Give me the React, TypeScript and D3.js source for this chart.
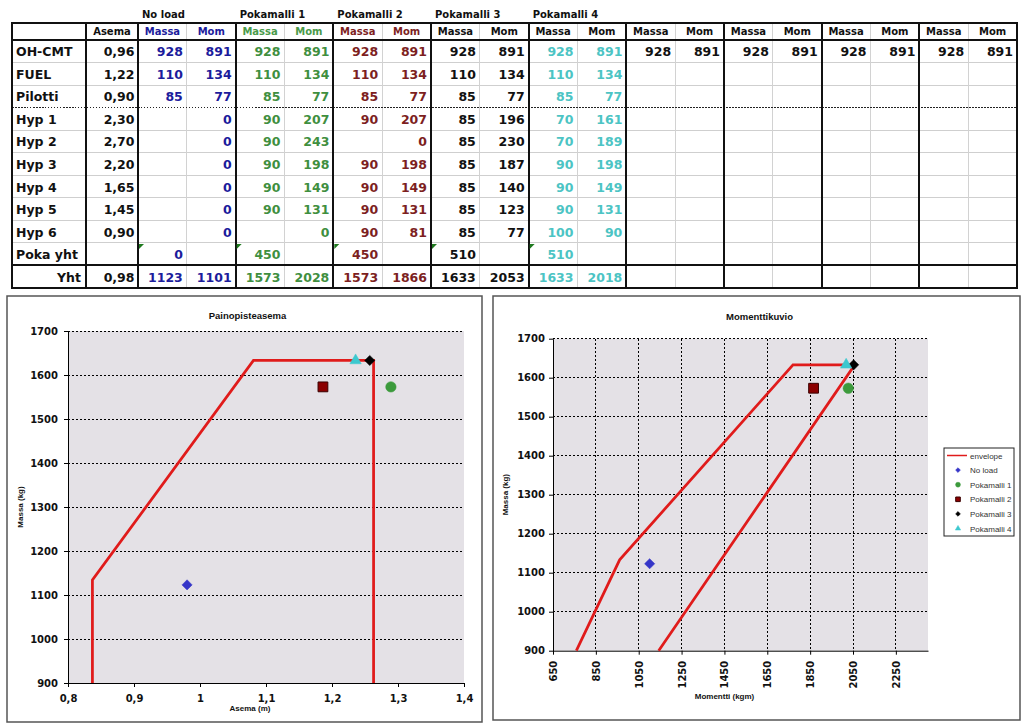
import React, { useEffect, useRef } from 'react';
import * as d3 from 'd3';

// ---- Table data ----
const rowLabels = ['OH-CMT', 'FUEL', 'Pilotti', 'Hyp 1', 'Hyp 2', 'Hyp 3', 'Hyp 4', 'Hyp 5', 'Hyp 6', 'Poka yht', 'Yht'];
const asemaValues = ['0,96', '1,22', '0,90', '2,30', '2,70', '2,20', '1,65', '1,45', '0,90', '', '0,98'];

type Cell = number | null;
const _ = null;

const noLoadMassa: Cell[] = [928, 110, 85, _, _, _, _, _, _, 0, 1123];
const noLoadMom: Cell[] = [891, 134, 77, 0, 0, 0, 0, 0, 0, _, 1101];
const poka1Massa: Cell[] = [928, 110, 85, 90, 90, 90, 90, 90, _, 450, 1573];
const poka1Mom: Cell[] = [891, 134, 77, 207, 243, 198, 149, 131, 0, _, 2028];
const poka2Massa: Cell[] = [928, 110, 85, 90, _, 90, 90, 90, 90, 450, 1573];
const poka2Mom: Cell[] = [891, 134, 77, 207, 0, 198, 149, 131, 81, _, 1866];
const poka3Massa: Cell[] = [928, 110, 85, 85, 85, 85, 85, 85, 85, 510, 1633];
const poka3Mom: Cell[] = [891, 134, 77, 196, 230, 187, 140, 123, 77, _, 2053];
const poka4Massa: Cell[] = [928, 110, 85, 70, 70, 90, 90, 90, 100, 510, 1633];
const poka4Mom: Cell[] = [891, 134, 77, 161, 189, 198, 149, 131, 90, _, 2018];
const blankMassa: Cell[] = [928, _, _, _, _, _, _, _, _, _, _];
const blankMom: Cell[] = [891, _, _, _, _, _, _, _, _, _, _];

const groupNames = ['No load', 'Pokamalli 1', 'Pokamalli 2', 'Pokamalli 3', 'Pokamalli 4', '', '', '', ''];
const groupMassa = [noLoadMassa, poka1Massa, poka2Massa, poka3Massa, poka4Massa, blankMassa, blankMassa, blankMassa, blankMassa];
const groupMom = [noLoadMom, poka1Mom, poka2Mom, poka3Mom, poka4Mom, blankMom, blankMom, blankMom, blankMom];
const groupColors = ['#1c1c9c', '#3f8f3f', '#7d1f1f', '#111111', '#4cc4c4', '#111111', '#111111', '#111111', '#111111'];
const headColors = ['#1c1c9c', '#4a9a4a', '#7d1f1f', '#111111', '#111111', '#111111', '#111111', '#111111', '#111111'];

// ---- Chart data ----
const massTicks = [900, 1000, 1100, 1200, 1300, 1400, 1500, 1600, 1700];
const asemaTicks = [0.8, 0.9, 1, 1.1, 1.2, 1.3, 1.4];
const momentTicks = [650, 850, 1050, 1250, 1450, 1650, 1850, 2050, 2250];

// envelope corners
const envelopeAsema: [number, number][] = [[0.837, 900], [0.837, 1134], [1.081, 1633], [1.263, 1633], [1.263, 900]];
const envelopeMoment: [number, number][] = [[759, 900], [961, 1133], [1770, 1633], [2058, 1633], [1143, 900]];

const seriesNames = ['No load', 'Pokamalli 1', 'Pokamalli 2', 'Pokamalli 3', 'Pokamalli 4'];
const seriesShapes = ['diamond', 'circle', 'square', 'diamond', 'triangle'];
const seriesFill = ['#3535c8', '#3c9a3c', '#8b0000', '#000000', '#3cc8cf'];
const seriesStroke = ['#3535c8', '#3c9a3c', '#3a0000', '#000000', '#3cc8cf'];

const VERDANA = '"DejaVu Sans", Verdana, sans-serif';
const ARIAL = '"Liberation Sans", Arial, sans-serif';
const RED = '#e01b1b';

// totals row gives the loaded mass and moment for each case
const totalIdx = rowLabels.length - 1;
const points = seriesNames.map((name, i) => {
  const mass = groupMassa[i][totalIdx] as number;
  const mom = groupMom[i][totalIdx] as number;
  return { name, mass, mom, asema: mom / mass, i };
});

const markerPath = (shape: string, size: number) => {
  if (shape === 'circle') return d3.symbol(d3.symbolCircle, size)() as string;
  if (shape === 'triangle') return d3.symbol(d3.symbolTriangle, size)() as string;
  return d3.symbol(d3.symbolSquare, size)() as string;
};

const drawMarker = (
  g: d3.Selection<SVGGElement, unknown, null, undefined>,
  i: number,
  cx: number,
  cy: number,
  scale: number,
) => {
  const shape = seriesShapes[i];
  const size = (shape === 'diamond' ? 52 : shape === 'circle' ? 86 : shape === 'square' ? 96 : 56) * scale;
  g.append('path')
    .attr('d', markerPath(shape, size))
    .attr('transform', `translate(${cx},${cy})${shape === 'diamond' ? ' rotate(45)' : ''}`)
    .attr('fill', seriesFill[i])
    .attr('stroke', seriesStroke[i])
    .attr('stroke-width', shape === 'square' ? 1 : 0.5);
};

function drawTable(svg: d3.Selection<SVGSVGElement, unknown, null, undefined>) {
  const tableLeft = 12;
  const labelRight = 86;
  const asemaRight = 138;
  const tableRight = 1017;
  const headerTop = 23;
  const headerBottom = 40;
  const tableBottom = 288;

  const colX = d3.scaleLinear().domain([0, groupNames.length * 2]).range([asemaRight, tableRight]);
  const rowY = d3.scaleLinear().domain([0, rowLabels.length]).range([headerBottom, tableBottom]);

  const t = svg.append('g').attr('font-family', VERDANA).attr('font-weight', 'bold');
  const lines = t.append('g').attr('shape-rendering', 'crispEdges');

  // thin row lines
  d3.range(1, rowLabels.length).forEach(i => {
    if (i === 3 || i === totalIdx) return;
    lines.append('line')
      .attr('x1', tableLeft).attr('x2', tableRight)
      .attr('y1', rowY(i)).attr('y2', rowY(i))
      .attr('stroke', '#cfcfcf');
  });
  // thin Massa / Mom separators
  groupNames.forEach((_n, g) => {
    lines.append('line')
      .attr('x1', colX(2 * g + 1)).attr('x2', colX(2 * g + 1))
      .attr('y1', headerTop).attr('y2', tableBottom)
      .attr('stroke', '#d2d2d2');
  });
  // dotted line under Pilotti
  lines.append('line')
    .attr('x1', tableLeft).attr('x2', tableRight)
    .attr('y1', rowY(3)).attr('y2', rowY(3))
    .attr('stroke', '#222').attr('stroke-width', 1.5).attr('stroke-dasharray', '1.5,1.5');
  // thick lines
  const thickX = [labelRight, asemaRight, ...d3.range(1, groupNames.length).map(g => colX(2 * g))];
  thickX.forEach(x => {
    lines.append('line')
      .attr('x1', x).attr('x2', x).attr('y1', headerTop).attr('y2', tableBottom)
      .attr('stroke', '#111').attr('stroke-width', 2);
  });
  [headerBottom, rowY(totalIdx)].forEach(y => {
    lines.append('line')
      .attr('x1', tableLeft).attr('x2', tableRight).attr('y1', y).attr('y2', y)
      .attr('stroke', '#111').attr('stroke-width', 2);
  });
  lines.append('rect')
    .attr('x', tableLeft).attr('y', headerTop)
    .attr('width', tableRight - tableLeft).attr('height', tableBottom - headerTop)
    .attr('fill', 'none').attr('stroke', '#111').attr('stroke-width', 2);

  // error indicator triangles on Poka yht
  d3.range(0, 5).forEach(g => {
    const x0 = g === 0 ? asemaRight : colX(2 * g);
    const y0 = rowY(9);
    t.append('path')
      .attr('d', `M${x0 + 1},${y0 + 1}L${x0 + 6},${y0 + 1}L${x0 + 1},${y0 + 6}Z`)
      .attr('fill', '#1f7a1f');
  });

  // group titles
  groupNames.forEach((name, g) => {
    if (!name) return;
    t.append('text')
      .attr('x', colX(2 * g) + 4).attr('y', 17.5)
      .attr('font-size', 10).attr('fill', '#111')
      .text(name);
  });
  // header row
  t.append('text')
    .attr('x', (labelRight + asemaRight) / 2).attr('y', 34.5)
    .attr('text-anchor', 'middle').attr('font-size', 10).attr('fill', '#111')
    .text('Asema');
  groupNames.forEach((_n, g) => {
    ['Massa', 'Mom'].forEach((h, k) => {
      t.append('text')
        .attr('x', (colX(2 * g + k) + colX(2 * g + k + 1)) / 2).attr('y', 34.5)
        .attr('text-anchor', 'middle').attr('font-size', 10).attr('fill', headColors[g])
        .text(h);
    });
  });

  // body
  rowLabels.forEach((label, r) => {
    const cy = (rowY(r) + rowY(r + 1)) / 2 + 5;
    const isTotal = r === totalIdx;
    t.append('text')
      .attr('x', isTotal ? labelRight - 5 : 16).attr('y', cy)
      .attr('text-anchor', isTotal ? 'end' : 'start')
      .attr('font-size', 12.5).attr('fill', '#111')
      .text(label);
    if (asemaValues[r]) {
      t.append('text')
        .attr('x', asemaRight - 3.5).attr('y', cy)
        .attr('text-anchor', 'end').attr('font-size', 12.5).attr('fill', '#111')
        .text(asemaValues[r]);
    }
    groupNames.forEach((_n, g) => {
      [groupMassa[g][r], groupMom[g][r]].forEach((v, k) => {
        if (v === null) return;
        t.append('text')
          .attr('x', colX(2 * g + k + 1) - 4).attr('y', cy)
          .attr('text-anchor', 'end').attr('font-size', 12.5).attr('fill', groupColors[g])
          .text(String(v));
      });
    });
  });
}

interface ChartConfig {
  box: { x: number; y: number; w: number; h: number };
  plot: { left: number; right: number; top: number; bottom: number };
  xDomain: [number, number];
  xTicks: number[];
  xFormat: (d: number) => string;
  rotateX: boolean;
  vGrid: boolean;
  envelope: [number, number][];
  xValue: (p: typeof points[number]) => number;
  title: string;
  titleY: number;
  xTitle: string;
  xTitleY: number;
  yTitleX: number;
  legend: boolean;
}

function drawChart(svg: d3.Selection<SVGSVGElement, unknown, null, undefined>, cfg: ChartConfig) {
  const { box, plot } = cfg;
  const g = svg.append('g');

  g.append('rect')
    .attr('x', box.x).attr('y', box.y).attr('width', box.w).attr('height', box.h)
    .attr('fill', '#fff').attr('stroke', '#555').attr('stroke-width', 1.5);

  const x = d3.scaleLinear().domain(cfg.xDomain).range([plot.left, plot.right]);
  const y = d3.scaleLinear().domain([massTicks[0], massTicks[massTicks.length - 1]]).range([plot.bottom, plot.top]);

  g.append('rect')
    .attr('x', plot.left).attr('y', plot.top)
    .attr('width', plot.right - plot.left).attr('height', plot.bottom - plot.top)
    .attr('fill', '#e4e1e6');

  // grid
  const grid = g.append('g').attr('stroke', '#000').attr('stroke-dasharray', '2,2').attr('shape-rendering', 'crispEdges');
  massTicks.slice(1).forEach(t => {
    grid.append('line').attr('x1', plot.left).attr('x2', plot.right).attr('y1', y(t)).attr('y2', y(t));
  });
  if (cfg.vGrid) {
    cfg.xTicks.slice(1).forEach(t => {
      grid.append('line').attr('x1', x(t)).attr('x2', x(t)).attr('y1', plot.top).attr('y2', plot.bottom);
    });
  }

  // axes
  const yAxis = g.append('g')
    .attr('transform', `translate(${plot.left},0)`)
    .call(d3.axisLeft(y).tickValues(massTicks).tickSize(4).tickSizeOuter(0).tickPadding(cfg.rotateX ? 4 : 6).tickFormat(d => String(d)));
  const xAxis = g.append('g')
    .attr('transform', `translate(0,${plot.bottom})`)
    .call(d3.axisBottom(x).tickValues(cfg.xTicks).tickSize(4).tickSizeOuter(0).tickPadding(8).tickFormat(d => cfg.xFormat(d as number)));
  [xAxis, yAxis].forEach(a => {
    a.selectAll('path').attr('stroke', '#000');
    a.selectAll('line').attr('stroke', '#000');
    a.selectAll('text')
      .attr('font-family', VERDANA).attr('font-weight', 'bold').attr('font-size', 10).attr('fill', '#111');
  });
  if (cfg.rotateX) {
    xAxis.selectAll('text')
      .attr('transform', 'rotate(-90)')
      .attr('text-anchor', 'end')
      .attr('x', -10).attr('y', 0).attr('dy', '0.35em');
  }

  // envelope
  const line = d3.line<[number, number]>().x(d => x(d[0])).y(d => y(d[1]));
  g.append('path')
    .datum(cfg.envelope)
    .attr('d', line)
    .attr('fill', 'none').attr('stroke', RED).attr('stroke-width', 2.75).attr('stroke-linejoin', 'miter');

  // load cases
  const marks = g.append('g');
  points.forEach(p => drawMarker(marks, p.i, x(cfg.xValue(p)), y(p.mass), 1));

  // titles
  g.append('text')
    .attr('x', (box.x + box.x + box.w) / 2 + 3).attr('y', cfg.titleY)
    .attr('text-anchor', 'middle').attr('font-family', ARIAL).attr('font-weight', 'bold')
    .attr('font-size', 9.5).attr('fill', '#111')
    .text(cfg.title);
  g.append('text')
    .attr('x', (plot.left + plot.right) / 2 - 16).attr('y', cfg.xTitleY)
    .attr('text-anchor', 'middle').attr('font-family', ARIAL).attr('font-weight', 'bold')
    .attr('font-size', 8).attr('fill', '#111')
    .text(cfg.xTitle);
  g.append('text')
    .attr('transform', `translate(${cfg.yTitleX},${(plot.top + plot.bottom) / 2}) rotate(-90)`)
    .attr('text-anchor', 'middle').attr('font-family', ARIAL).attr('font-weight', 'bold')
    .attr('font-size', 8).attr('fill', '#111')
    .text('Massa (kg)');

  if (cfg.legend) {
    const lg = g.append('g');
    const lx = 944;
    const ly = 448;
    const rowH = 14.6;
    const labels = ['envelope', ...seriesNames];
    lg.append('rect')
      .attr('x', lx).attr('y', ly).attr('width', 70).attr('height', 88)
      .attr('fill', '#fff').attr('stroke', '#222').attr('stroke-width', 1);
    labels.forEach((lab, k) => {
      const cy = ly + 7.5 + k * rowH;
      if (k === 0) {
        lg.append('line').attr('x1', lx + 3).attr('x2', lx + 23).attr('y1', cy).attr('y2', cy)
          .attr('stroke', RED).attr('stroke-width', 1.5);
      } else {
        drawMarker(lg, k - 1, lx + 14, cy, 0.22);
      }
      lg.append('text')
        .attr('x', lx + 26).attr('y', cy + 3)
        .attr('font-family', ARIAL).attr('font-size', 8).attr('fill', '#333')
        .text(lab);
    });
  }
}

const commaFormat = (d: number) => String(+d.toFixed(1)).replace('.', ',');

const App: React.FC = () => {
  const svgRef = useRef<SVGSVGElement>(null);

  useEffect(() => {
    if (!svgRef.current) return;
    const svg = d3.select(svgRef.current);
    svg.selectAll('*').remove();

    drawTable(svg);

    drawChart(svg, {
      box: { x: 7, y: 296, w: 475, h: 426 },
      plot: { left: 68, right: 464, top: 331, bottom: 683 },
      xDomain: [0.8, 1.4],
      xTicks: asemaTicks,
      xFormat: commaFormat,
      rotateX: false,
      vGrid: false,
      envelope: envelopeAsema,
      xValue: p => p.asema,
      title: 'Painopisteasema',
      titleY: 319,
      xTitle: 'Asema (m)',
      xTitleY: 711,
      yTitleX: 23,
      legend: false,
    });

    drawChart(svg, {
      box: { x: 493, y: 296, w: 527, h: 424 },
      plot: { left: 553, right: 928, top: 338.7, bottom: 650.7 },
      xDomain: [650, 2400],
      xTicks: momentTicks,
      xFormat: d => String(d),
      rotateX: true,
      vGrid: true,
      envelope: envelopeMoment,
      xValue: p => p.mom,
      title: 'Momenttikuvio',
      titleY: 320,
      xTitle: 'Momentti (kgm)',
      xTitleY: 699,
      yTitleX: 508,
      legend: true,
    });
  }, []);

  return (
    <svg
      ref={svgRef}
      width={1024}
      height={728}
      style={{ position: 'absolute', left: 0, top: 0, background: '#fff' }}
    />
  );
};

export default App;
